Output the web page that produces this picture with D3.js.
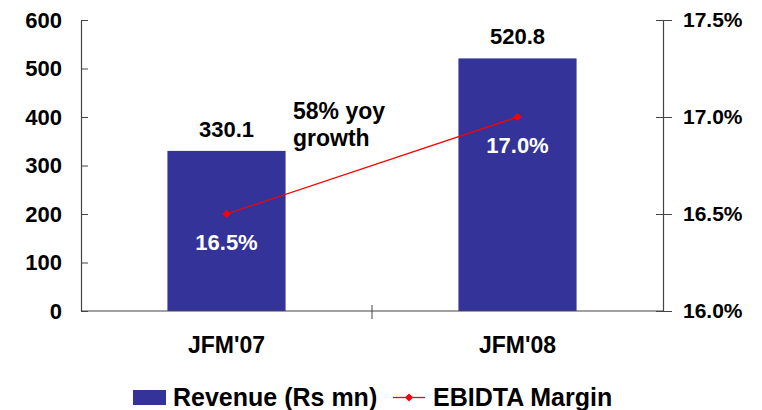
<!DOCTYPE html>
<html>
<head>
<meta charset="utf-8">
<script src="https://cdn.jsdelivr.net/npm/d3@7"></script>
<style>
  body { margin: 0; background: #fff; }
  svg { display: block; font-family: Arial, "Liberation Sans", sans-serif; font-weight: bold; }
</style>
</head>
<body>
<div id="chart"></div>
<script>
// data
const periods = ["JFM'07", "JFM'08"];
const revenue = [330.1, 520.8];
const margin = [16.5, 17.0];
const revenueTicks = [0, 100, 200, 300, 400, 500, 600];
const marginTicks = [16.0, 16.5, 17.0, 17.5];

const width = 762;
const height = 410;
const plot = { left: 81, right: 663, top: 20, bottom: 311 };

const svg = d3.select("#chart").append("svg")
    .attr("width", width)
    .attr("height", height);

const x = d3.scaleBand()
    .domain(periods)
    .range([plot.left, plot.right])
    .paddingInner(0.594)
    .paddingOuter(0.297);

const y = d3.scaleLinear().domain([0, 600]).range([plot.bottom, plot.top]);
const y2 = d3.scaleLinear().domain([16.0, 17.5]).range([plot.bottom, plot.top]);

const axisColor = "#444";
const fontFamily = "Arial, 'Liberation Sans', sans-serif";

// bars
svg.append("g")
    .attr("fill", "#333399")
  .selectAll("rect")
  .data(revenue)
  .join("rect")
    .attr("x", (d, i) => x(periods[i]))
    .attr("y", d => y(d))
    .attr("width", x.bandwidth())
    .attr("height", d => y(0) - y(d));

// left axis
const leftAxis = svg.append("g")
    .attr("transform", `translate(${plot.left},0)`)
    .call(d3.axisLeft(y).tickValues(revenueTicks).tickSize(9).tickPadding(10).tickSizeOuter(0))
    .attr("font-family", fontFamily)
    .attr("font-size", 22)
    .attr("font-weight", "bold");
leftAxis.select(".domain").attr("stroke", axisColor).attr("stroke-width", 1.2);
leftAxis.selectAll(".tick line").attr("stroke", axisColor).attr("x2", 7);
leftAxis.selectAll(".tick text").attr("fill", "#000");

// right axis
const rightAxis = svg.append("g")
    .attr("transform", `translate(${plot.right},0)`)
    .call(d3.axisRight(y2).tickValues(marginTicks).tickFormat(d => d.toFixed(1) + "%")
        .tickSize(9).tickPadding(11).tickSizeOuter(0))
    .attr("font-family", fontFamily)
    .attr("font-size", 21)
    .attr("font-weight", "bold");
rightAxis.select(".domain").attr("stroke", axisColor).attr("stroke-width", 1.2);
rightAxis.selectAll(".tick line").attr("stroke", axisColor).attr("x1", -7);
rightAxis.selectAll(".tick text").attr("fill", "#000");

// x axis
const xAxis = svg.append("g")
    .attr("transform", `translate(0,${plot.bottom})`);
xAxis.append("line")
    .attr("x1", plot.left).attr("x2", plot.right)
    .attr("stroke", axisColor).attr("stroke-width", 1.2);
// separator tick between categories
const sepX = (x(periods[0]) + x(periods[1]) + x.bandwidth()) / 2;
xAxis.append("line")
    .attr("x1", sepX).attr("x2", sepX)
    .attr("y1", -6).attr("y2", 8)
    .attr("stroke", axisColor);
xAxis.selectAll("text")
  .data(periods)
  .join("text")
    .attr("x", d => x(d) + x.bandwidth() / 2)
    .attr("y", 42)
    .attr("text-anchor", "middle")
    .attr("font-size", 23)
    .text(d => d);

// revenue labels
svg.append("g")
  .selectAll("text")
  .data(revenue)
  .join("text")
    .attr("x", (d, i) => x(periods[i]) + x.bandwidth() / 2)
    .attr("y", d => y(d) - 14)
    .attr("text-anchor", "middle")
    .attr("font-size", 22)
    .text(d => d.toFixed(1));

// margin line
const line = d3.line()
    .x((d, i) => x(periods[i]) + x.bandwidth() / 2)
    .y(d => y2(d));

svg.append("path")
    .datum(margin)
    .attr("fill", "none")
    .attr("stroke", "#ff0000")
    .attr("stroke-width", 1.3)
    .attr("d", line);

// square turned 45deg = even diamond
const diamond = d3.symbol().type(d3.symbolSquare).size(34);
svg.append("g")
  .selectAll("path")
  .data(margin)
  .join("path")
    .attr("transform", (d, i) => `translate(${x(periods[i]) + x.bandwidth() / 2},${y2(d)}) rotate(45)`)
    .attr("d", diamond)
    .attr("fill", "#ff0000");

// margin labels
svg.append("g")
  .selectAll("text")
  .data(margin)
  .join("text")
    .attr("x", (d, i) => x(periods[i]) + x.bandwidth() / 2)
    .attr("y", d => y2(d) + 36)
    .attr("text-anchor", "middle")
    .attr("font-size", 22)
    .attr("fill", "#fff")
    .text(d => d.toFixed(1) + "%");

// annotation
const note = svg.append("text")
    .attr("x", 293)
    .attr("y", 119)
    .attr("font-size", 23);
note.append("tspan").attr("x", 293).text("58% yoy");
note.append("tspan").attr("x", 293).attr("dy", 27).text("growth");

// legend
const legend = svg.append("g").attr("transform", "translate(133,390)");
legend.append("rect")
    .attr("width", 33).attr("height", 15)
    .attr("fill", "#333399");
legend.append("text")
    .attr("x", 40).attr("y", 15.5)
    .attr("font-size", 25)
    .text("Revenue (Rs mn)");
legend.append("line")
    .attr("x1", 260).attr("x2", 292)
    .attr("y1", 7.5).attr("y2", 7.5)
    .attr("stroke", "#ff0000").attr("stroke-width", 1.3);
legend.append("path")
    .attr("transform", "translate(276,7.5) rotate(45)")
    .attr("d", diamond)
    .attr("fill", "#ff0000");
legend.append("text")
    .attr("x", 300).attr("y", 15.5)
    .attr("font-size", 25)
    .text("EBIDTA Margin");
</script>
</body>
</html>
